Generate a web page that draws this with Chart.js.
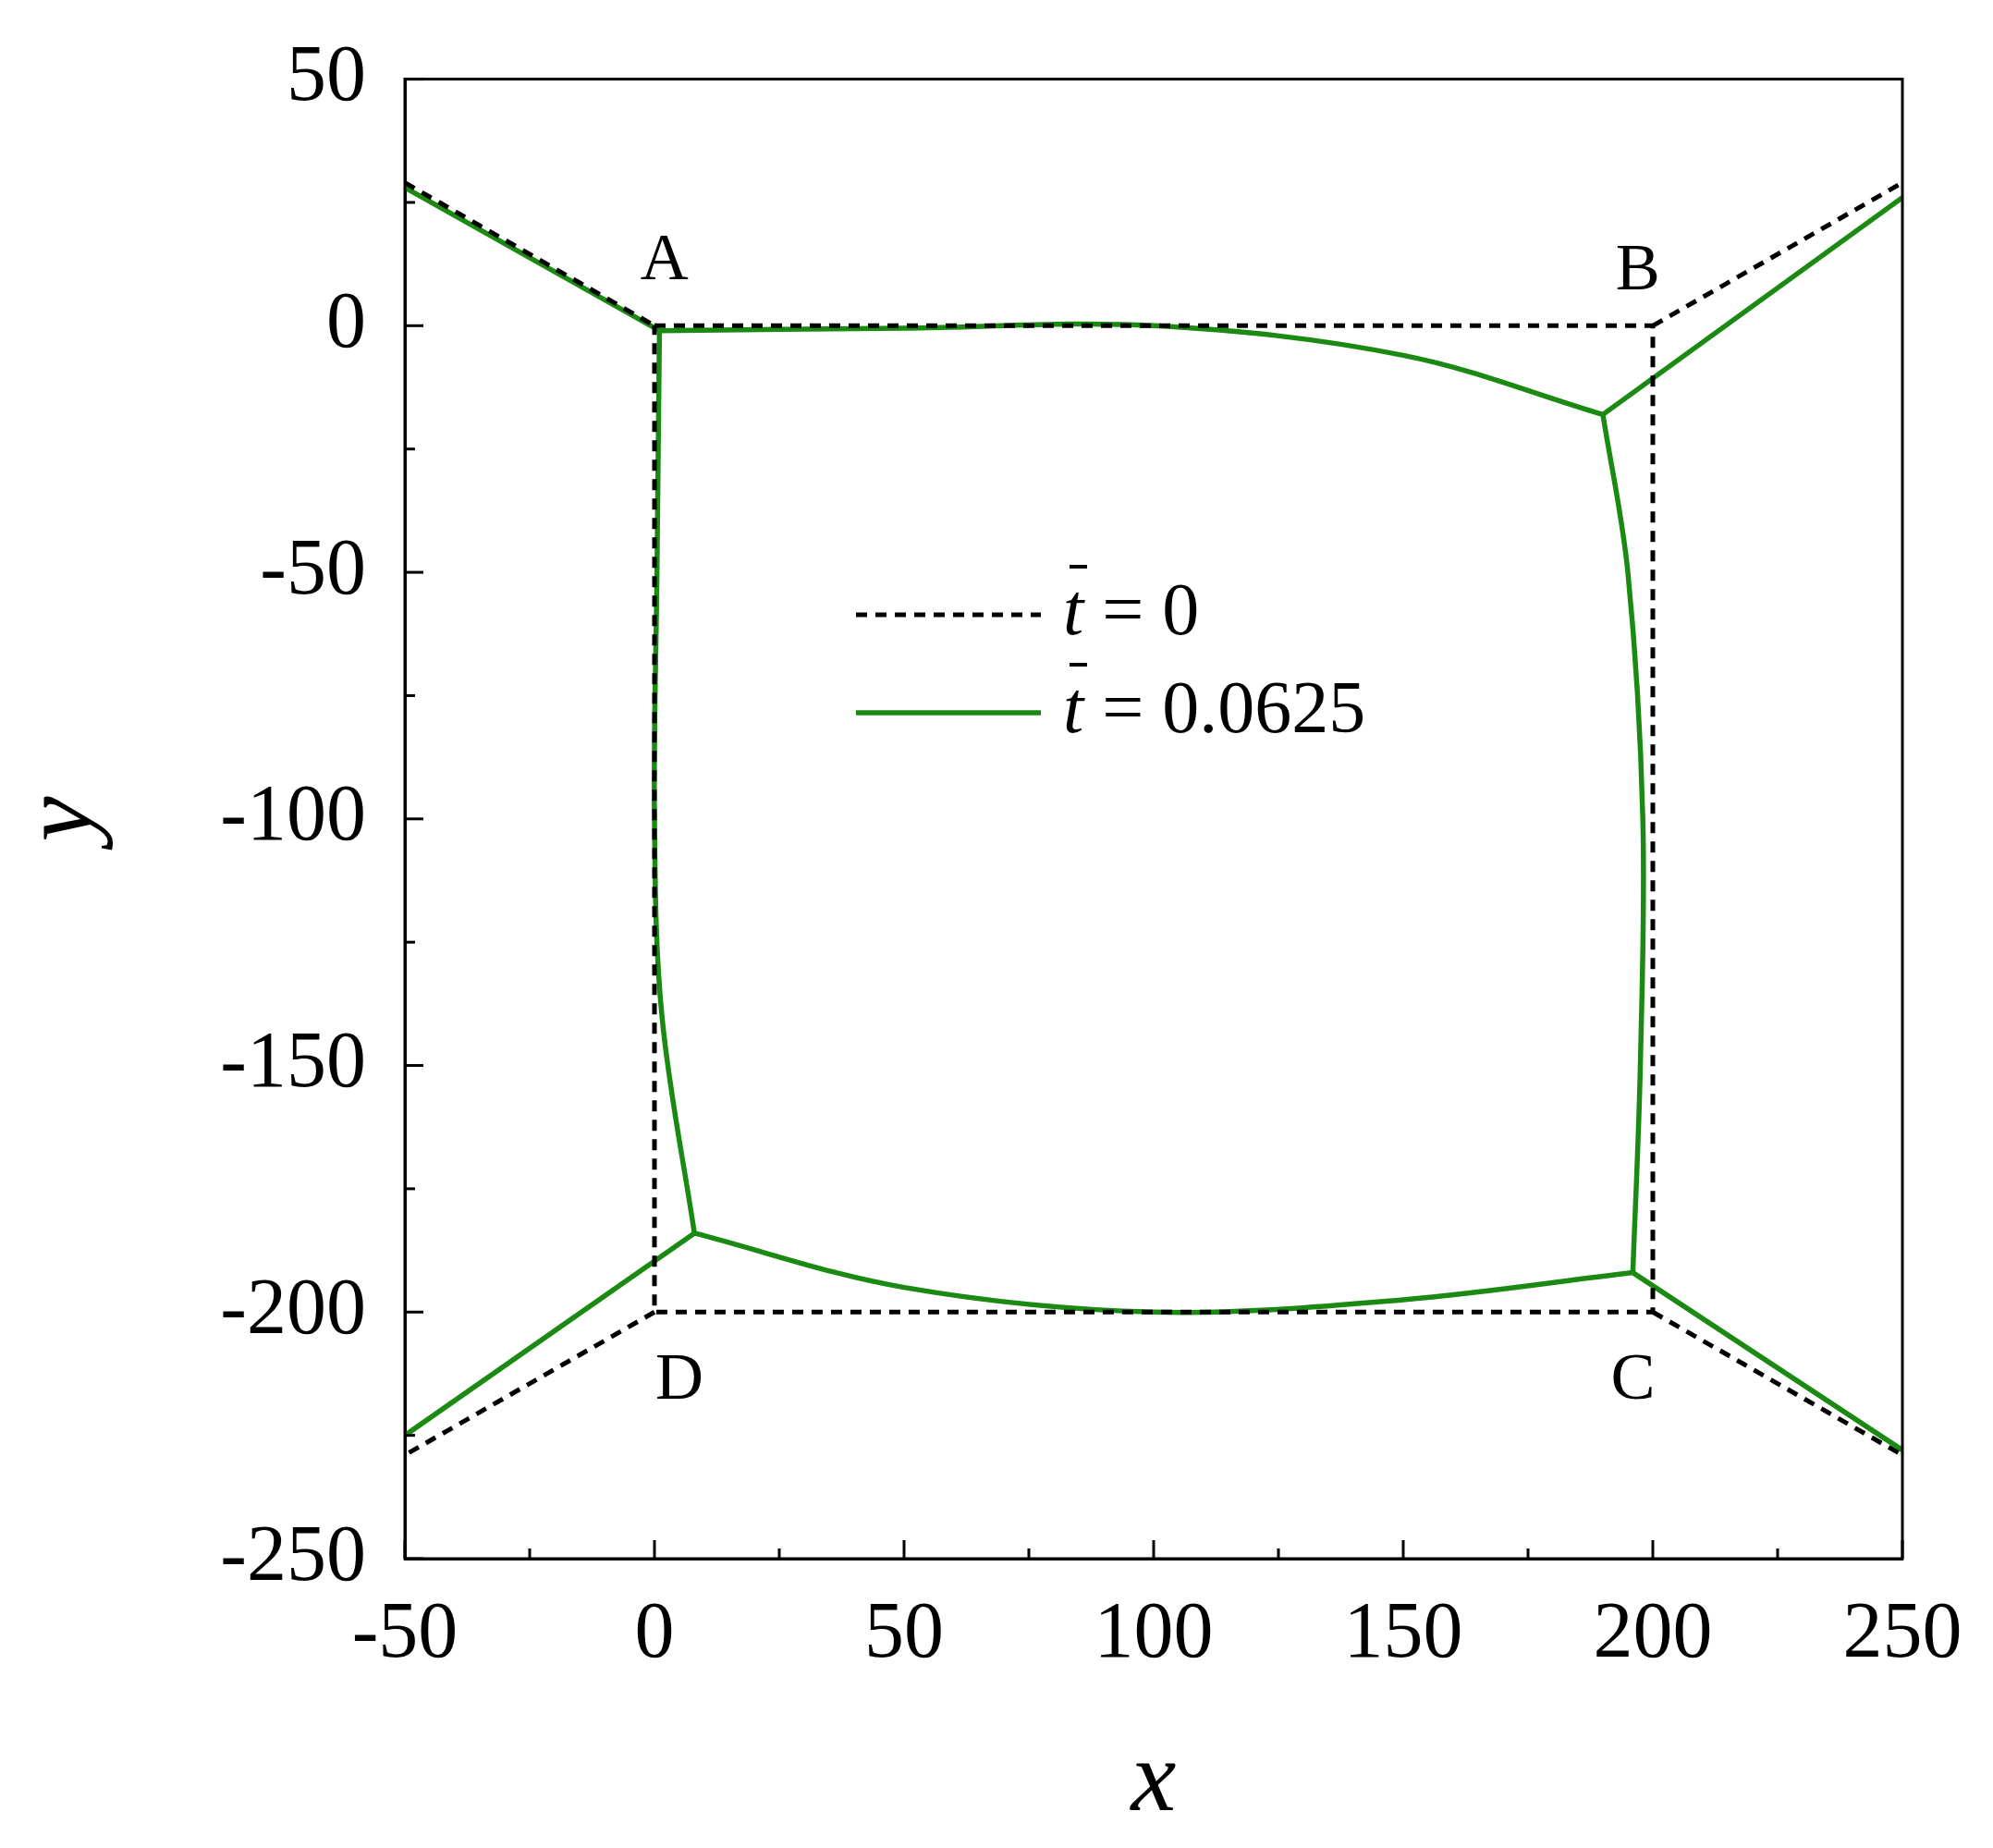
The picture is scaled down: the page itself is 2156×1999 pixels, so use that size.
<!DOCTYPE html>
<html><head><meta charset="utf-8">
<script src="https://cdn.jsdelivr.net/npm/chart.js@4/dist/chart.umd.min.js"></script>
<style>html,body{margin:0;padding:0;background:#fff}canvas{display:block}</style>
</head><body>
<canvas id="c" width="2156" height="1999"></canvas>
<script>
const xTicks=[-50,0,50,100,150,200,250];
const yTicks=[50,0,-50,-100,-150,-200,-250];
// t = 0 (dashed)
const dashA=[[-50,29],[0,0]];
const dashBox=[[0,0],[200,0],[200,-200],[0,-200],[0,0]];
const dashB=[[200,0],[250,29]];
const dashD=[[0,-200],[-50,-229]];
const dashC=[[200,-200],[250,-229]];
// t = 0.0625 (green)
const greenA=[[-50,28],[1,-1]];
const greenTop=[[1,-1],[50,-0.5],[100,0],[150,-6],[190,-18]];
const greenRight=[[190,-18],[195,-50],[198,-100],[197.5,-150],[196,-192]];
const greenBottom=[[196,-192],[150,-197.5],[100,-200],[50,-195],[8,-184]];
const greenLeft=[[8,-184],[1.5,-140],[0,-100],[0.5,-50],[1,-1]];
const greenB=[[190,-18],[250,26]];
const greenD=[[8,-184],[-50,-225]];
const greenC=[[196,-192],[250,-228]];
const pointLabels=[["A",2,13],["B",197,11],["D",5,-214],["C",196,-214]];
const legendItems=[["t"," = 0","dash"],["t"," = 0.0625","green"]];

const F="'Liberation Serif','Times New Roman',serif";
const G="#1a8a12";
const pts=a=>a.map(p=>({x:p[0],y:p[1]}));
const ds=[];
[dashA,dashBox,dashB,dashD,dashC].forEach(a=>ds.push({data:pts(a),borderColor:'#000',borderDash:[12,9],borderWidth:5,tension:0}));
[greenA,greenB,greenD,greenC].forEach(a=>ds.push({data:pts(a),borderColor:G,borderWidth:5.5,tension:0}));
[greenTop,greenRight,greenBottom,greenLeft].forEach(a=>ds.push({data:pts(a),borderColor:G,borderWidth:5.5,tension:0.35}));
ds.forEach(d=>{d.showLine=true;d.pointRadius=0;d.fill=false;});

const deco={id:'deco',afterDraw(ch){
  const c=ch.ctx,a=ch.chartArea,xs=ch.scales.x,ys=ch.scales.y;
  c.save();c.strokeStyle='#000';c.lineWidth=3;
  c.strokeRect(a.left,a.top,a.right-a.left,a.bottom-a.top);
  c.lineWidth=3;
  for(let v=-50;v<=250;v+=25){const X=xs.getPixelForValue(v);const L=(v%50===0)?20:11;
    c.beginPath();c.moveTo(X,a.bottom);c.lineTo(X,a.bottom-L);c.stroke();}
  for(let v=-250;v<=50;v+=25){const Y=ys.getPixelForValue(v);const L=(v%50===0)?20:11;
    c.beginPath();c.moveTo(a.left,Y);c.lineTo(a.left+L,Y);c.stroke();}
  c.fillStyle='#000';c.font='72px '+F;c.textAlign='center';c.textBaseline='middle';
  pointLabels.forEach(p=>c.fillText(p[0],xs.getPixelForValue(p[1]),ys.getPixelForValue(p[2])));
  const lx0=926,lx1=1126;
  legendItems.forEach((it,i)=>{
    const y=665+i*106;
    c.beginPath();
    if(it[2]==='dash'){c.strokeStyle='#000';c.setLineDash([12,9]);c.lineWidth=5;}
    else{c.strokeStyle=G;c.setLineDash([]);c.lineWidth=5.5;}
    c.moveTo(lx0,y);c.lineTo(lx1,y);c.stroke();c.setLineDash([]);
    c.textAlign='left';c.fillStyle='#000';
    c.font='italic 80px '+F;c.fillText(it[0],1150,y);
    const tw=c.measureText(it[0]).width;
    c.strokeStyle='#000';c.lineWidth=4;c.beginPath();c.moveTo(1157,y-52);c.lineTo(1176,y-52);c.stroke();
    c.font='80px '+F;c.fillText(it[1],1150+tw,y);
  });
  c.restore();
}};

new Chart(document.getElementById('c'),{
  type:'scatter',
  data:{datasets:ds},
  options:{responsive:false,animation:false,
    layout:{padding:{left:0,right:98,top:68,bottom:0}},
    plugins:{legend:{display:false},tooltip:{enabled:false}},
    scales:{
      x:{type:'linear',min:-50,max:250,
        afterBuildTicks:s=>{s.ticks=xTicks.map(v=>({value:v}));},
        afterFit:s=>{s.height=313;},
        grid:{display:false},border:{display:true,color:'#000',width:3},
        ticks:{color:'#000',font:{family:F,size:86},padding:24,maxRotation:0},
        title:{display:true,text:'x',color:'#000',font:{family:F,size:110,style:'italic'},padding:{top:0}}},
      y:{type:'linear',min:-250,max:50,
        afterBuildTicks:s=>{s.ticks=yTicks.map(v=>({value:v}));},
        afterFit:s=>{s.width=438;},
        grid:{display:false},border:{display:true,color:'#000',width:3},
        ticks:{color:'#000',font:{family:F,size:86},padding:34},
        title:{display:true,text:'y',color:'#000',font:{family:F,size:110,style:'italic'},padding:{bottom:10}}}
    }},
  plugins:[deco]
});
</script>
</body></html>
